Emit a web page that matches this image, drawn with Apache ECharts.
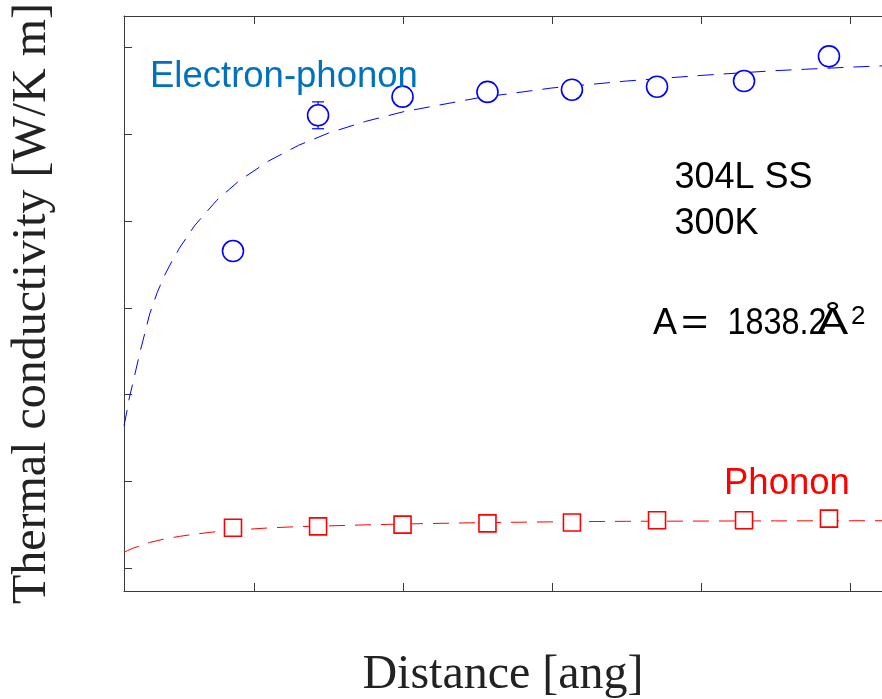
<!DOCTYPE html>
<html>
<head>
<meta charset="utf-8">
<script src="https://cdn.jsdelivr.net/npm/echarts@6/dist/echarts.min.js"></script>
<style>
  html, body { margin: 0; padding: 0; background: #ffffff; }
  #chart { width: 882px; height: 699px; }
</style>
</head>
<body>
<div id="chart"></div>
<script>
// Sample lengths (ang) and measured conductivities (W/K m)
const distance      = [85.9, 143.0, 199.7, 256.7, 313.4, 370.5, 428.9, 485.9];
const electronK     = [9.31, 12.44, 12.87, 12.98, 13.03, 13.10, 13.23, 13.80];
const electronErr   = [0.08, 0.31, 0.10, 0.08, 0.08, 0.08, 0.10, 0.12];
const phononK       = [2.93, 2.96, 3.00, 3.03, 3.05, 3.10, 3.10, 3.14];

// Fitted curves
const fitDistance   = [12.75, 15, 16.3, 19, 23.5, 27, 30, 35, 40, 45, 50, 60, 75, 90, 110, 130, 150, 175, 200, 250, 300, 350, 400, 450, 500, 521.5];
const electronFit   = [5.28, 5.67, 5.92, 6.31, 6.98, 7.45, 7.86, 8.35, 8.75, 9.08, 9.38, 9.89, 10.48, 10.93, 11.39, 11.75, 12.03, 12.30, 12.52, 12.84, 13.07, 13.23, 13.36, 13.47, 13.55, 13.58];
const phononFit     = [2.36, 2.40, 2.42, 2.46, 2.51, 2.555, 2.59, 2.63, 2.67, 2.70, 2.73, 2.78, 2.84, 2.88, 2.925, 2.955, 2.972, 2.995, 3.015, 3.045, 3.065, 3.077, 3.083, 3.087, 3.090, 3.091];

// Axis ranges and tick positions
const xRange = [12.75, 521.5];
const yRange = [1.47, 14.73];
const xTicks = [100, 200, 300, 400, 500];
const yTicks = [2, 4, 6, 8, 10, 12, 14];

const BLUE = '#0000ff';
const RED = '#ff0000';
const AXIS = '#3a3a3a';

const pairs = (xs, ys) => xs.map((x, i) => [x, ys[i]]);

const chart = echarts.init(document.getElementById('chart'), null, { renderer: 'canvas' });

const axisCommon = {
  type: 'value',
  min: xRange[0],
  max: xRange[1],
  axisLine: { show: true, lineStyle: { color: AXIS, width: 1 } },
  axisTick: { show: true, inside: true, length: 8, lineStyle: { color: AXIS, width: 1 }, customValues: xTicks },
  axisLabel: { show: false },
  splitLine: { show: false }
};

const sans = 'Liberation Sans, Arial, sans-serif';
const serif = 'Liberation Serif, Times New Roman, serif';

function label(text, x, y, color, size, scaleX) {
  return {
    type: 'text',
    x: x,
    y: y,
    scaleX: scaleX || 1,
    style: {
      text: text,
      fill: color,
      font: size + 'px ' + sans,
      align: 'left',
      verticalAlign: 'middle'
    },
    z: 100
  };
}

chart.setOption({
  animation: false,
  backgroundColor: '#ffffff',
  grid: { left: 124, top: 16, right: 0, bottom: 108, containLabel: false, outerBoundsMode: 'none' },
  xAxis: [
    Object.assign({}, axisCommon, {
      position: 'bottom',
      name: 'Distance [ang]',
      nameLocation: 'middle',
      nameGap: 60,
      nameTextStyle: { fontFamily: serif, fontSize: 48, color: '#222222' }
    }),
    Object.assign({}, axisCommon, { position: 'top' })
  ],
  yAxis: {
    type: 'value',
    min: yRange[0],
    max: yRange[1],
    axisLine: { show: true, lineStyle: { color: AXIS, width: 1 } },
    axisTick: { show: true, inside: true, length: 8, lineStyle: { color: AXIS, width: 1 }, customValues: yTicks },
    axisLabel: { show: false },
    splitLine: { show: false },
    name: 'Thermal conductivity [W/K m]',
    nameLocation: 'middle',
    nameGap: 68,
    nameTextStyle: { fontFamily: serif, fontSize: 48, color: '#222222' }
  },
  series: [
    {
      name: 'electron fit',
      type: 'line',
      data: pairs(fitDistance, electronFit),
      showSymbol: false,
      smooth: false,
      lineStyle: { color: BLUE, width: 1, type: [16, 10] },
      z: 2
    },
    {
      name: 'phonon fit',
      type: 'line',
      data: pairs(fitDistance, phononFit),
      showSymbol: false,
      smooth: false,
      lineStyle: { color: RED, width: 1, type: [16, 10] },
      z: 2
    },
    {
      name: 'electron error',
      type: 'custom',
      data: distance.map((x, i) => [x, electronK[i] - electronErr[i], electronK[i] + electronErr[i]]),
      renderItem: function (params, api) {
        const lo = api.coord([api.value(0), api.value(1)]);
        const hi = api.coord([api.value(0), api.value(2)]);
        const half = 6;
        const style = { stroke: BLUE, lineWidth: 1.2 };
        return {
          type: 'group',
          children: [
            { type: 'line', shape: { x1: lo[0], y1: lo[1], x2: hi[0], y2: hi[1] }, style: style },
            { type: 'line', shape: { x1: lo[0] - half, y1: lo[1], x2: lo[0] + half, y2: lo[1] }, style: style },
            { type: 'line', shape: { x1: hi[0] - half, y1: hi[1], x2: hi[0] + half, y2: hi[1] }, style: style }
          ]
        };
      },
      z: 3
    },
    {
      name: 'Electron-phonon',
      type: 'scatter',
      data: pairs(distance, electronK),
      symbol: 'circle',
      symbolSize: 21,
      itemStyle: { color: '#ffffff', borderColor: BLUE, borderWidth: 1.6, opacity: 1 },
      z: 4
    },
    {
      name: 'Phonon',
      type: 'scatter',
      data: pairs(distance, phononK),
      symbol: 'rect',
      symbolSize: 17,
      itemStyle: { color: '#ffffff', borderColor: RED, borderWidth: 1.6, opacity: 1 },
      z: 4
    }
  ],
  graphic: [
    label('Electron-phonon', 150, 77, '#0072bd', 36.5),
    label('Phonon', 724, 484, RED, 36.5),
    label('304L SS', 674.5, 178, '#000000', 36),
    label('300K', 674.5, 224, '#000000', 36),
    label('A', 653, 324, '#000000', 36),
    label('=', 681, 324, '#000000', 36, 1.3),
    label('1838.2', 727.5, 324, '#000000', 36, 0.9),
    label('\u00C5', 817, 324, '#000000', 36, 1.3),
    label('2', 851, 317, '#000000', 26)
  ]
});
</script>
</body>
</html>
